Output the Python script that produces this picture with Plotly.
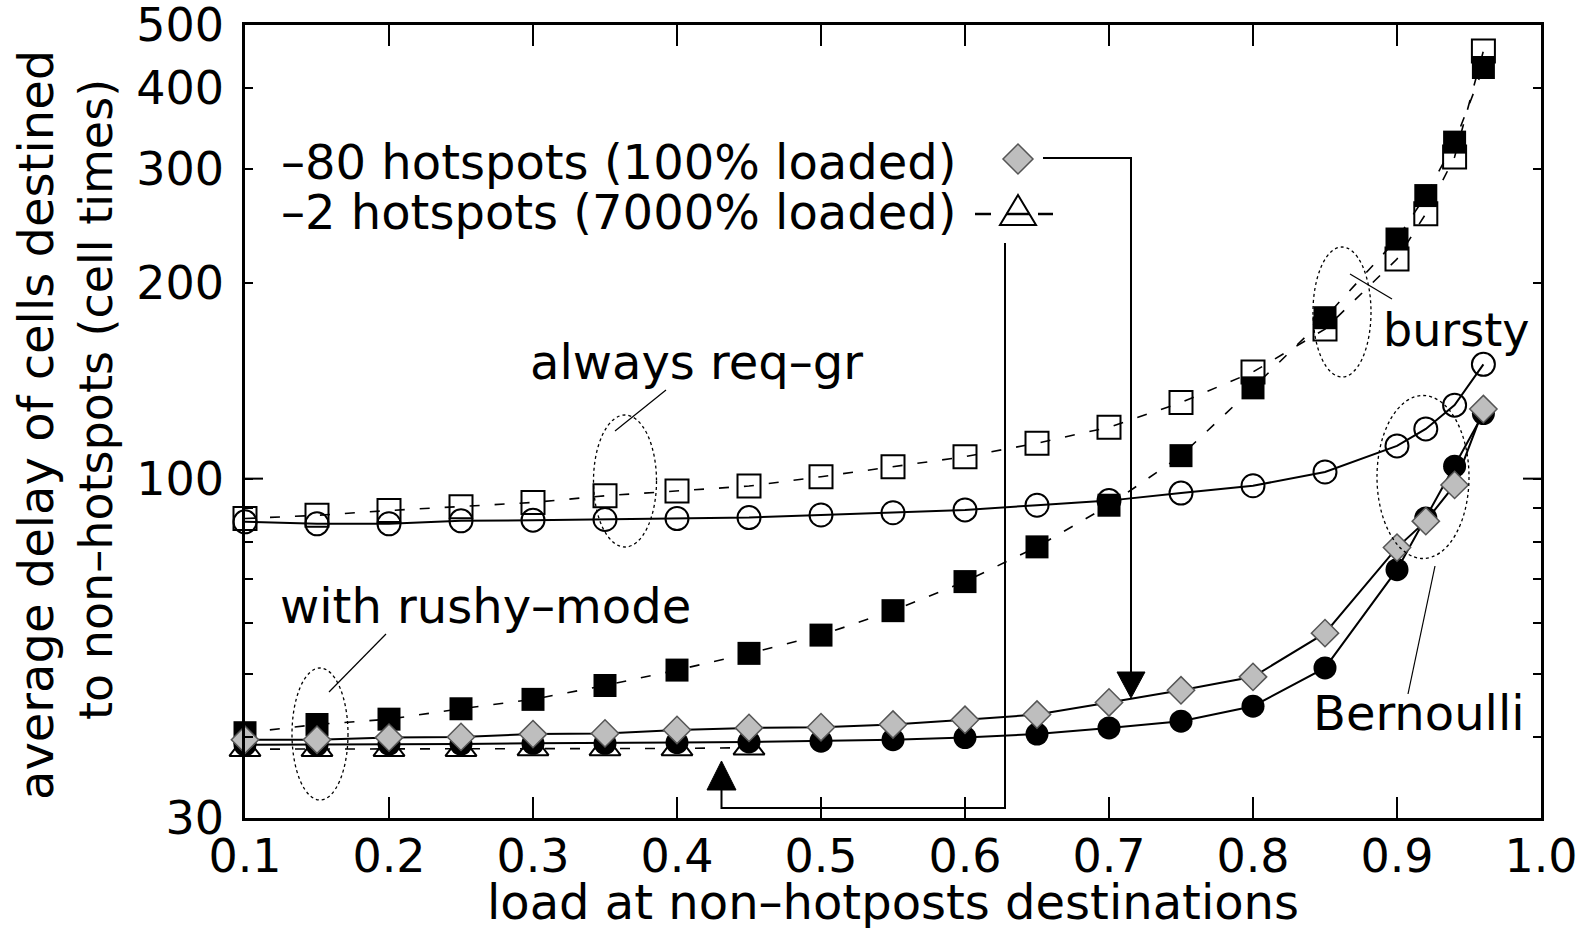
import math
import plotly.graph_objects as go

# ---------------- data ----------------
load = [0.1, 0.15, 0.2, 0.25, 0.3, 0.35, 0.4, 0.45, 0.5, 0.55,
        0.6, 0.65, 0.7, 0.75, 0.8, 0.85, 0.9, 0.92, 0.94, 0.96]

reqgr_bursty = [86.8, 87.8, 89.3, 90.5, 91.9, 94.1, 95.7, 97.4, 100.7, 104.3,
                108.1, 113.4, 120.0, 131.0, 146.0, 170.0, 218.0, 256.0, 313.0, 456.0]
rushy_bursty = [40.6, 41.8, 42.6, 44.2, 45.7, 48.0, 50.7, 53.8, 57.4, 62.6,
                69.4, 78.5, 91.0, 108.5, 138.0, 177.0, 234.0, 273.0, 330.0, 430.0]
reqgr_bern = [85.8, 85.2, 85.2, 86.1, 86.3, 86.5, 86.8, 87.1, 87.9, 88.6,
              89.5, 91.0, 92.5, 95.0, 97.5, 102.4, 112.3, 119.3, 129.8, 150.0]
rushy_bern = [38.9, 38.9, 39.0, 39.0, 39.1, 39.1, 39.2, 39.3, 39.4, 39.6,
              39.9, 40.4, 41.3, 42.3, 44.6, 51.1, 72.4, 87.0, 104.5, 126.0]
hot80 = [39.6, 39.6, 39.9, 40.0, 40.4, 40.5, 41.0, 41.3, 41.4, 41.8,
         42.5, 43.3, 45.2, 47.2, 49.5, 57.8, 78.3, 86.0, 97.8, 128.0]
load_hot2 = [0.1, 0.15, 0.2, 0.25, 0.3, 0.35, 0.4, 0.45]
hot2 = [38.3, 38.3, 38.3, 38.3, 38.4, 38.4, 38.4, 38.5]

x_ticks = [0.1, 0.2, 0.3, 0.4, 0.5, 0.6, 0.7, 0.8, 0.9, 1.0]
y_ticks = [30, 100, 200, 300, 400, 500]
y_minor = [40, 50, 60, 70, 80, 90]

# ---------------- layout helpers (pixel -> paper) ----------------
W, H = 1588, 928
L, R, T, B = 245, 1541, 25, 818
FONT = "DejaVu Sans"


def px(X):
    return (X - L) / (R - L)


def py(Y):
    return (B - Y) / (B - T)


fig = go.Figure()

DASH = "10px,15px"

fig.add_trace(go.Scatter(
    x=load, y=reqgr_bursty, mode="lines+markers", cliponaxis=False,
    line=dict(color="black", width=1.6, dash=DASH),
    marker=dict(symbol="square-open", size=23, color="black", line=dict(width=2, color="black"))))
fig.add_trace(go.Scatter(
    x=load, y=rushy_bursty, mode="lines+markers", cliponaxis=False,
    line=dict(color="black", width=1.6, dash=DASH),
    marker=dict(symbol="square", size=23, color="black", line=dict(width=0))))
fig.add_trace(go.Scatter(
    x=load, y=reqgr_bern, mode="lines+markers", cliponaxis=False,
    line=dict(color="black", width=2),
    marker=dict(symbol="circle-open", size=23, color="black", line=dict(width=2, color="black"))))
fig.add_trace(go.Scatter(
    x=load, y=rushy_bern, mode="lines+markers", cliponaxis=False,
    line=dict(color="black", width=2),
    marker=dict(symbol="circle", size=23, color="black", line=dict(width=0))))
fig.add_trace(go.Scatter(
    x=load_hot2, y=hot2, mode="lines+markers", cliponaxis=False,
    line=dict(color="black", width=1.6, dash=DASH),
    marker=dict(symbol="triangle-up-open", size=27, color="black", line=dict(width=2, color="black"))))
fig.add_trace(go.Scatter(
    x=load, y=hot80, mode="lines+markers", cliponaxis=False,
    line=dict(color="black", width=2),
    marker=dict(symbol="diamond", size=21, color="#bebebe", line=dict(width=1.5, color="#555555"))))

shapes = []


def line(x0, y0, x1, y1, width=1.2, dash="solid"):
    shapes.append(dict(type="line", xref="paper", yref="paper",
                       x0=px(x0), y0=py(y0), x1=px(x1), y1=py(y1),
                       line=dict(color="black", width=width, dash=dash)))


def ellipse(cx, cy, w, h):
    shapes.append(dict(type="circle", xref="paper", yref="paper",
                       x0=px(cx - w / 2), x1=px(cx + w / 2),
                       y0=py(cy + h / 2), y1=py(cy - h / 2),
                       line=dict(color="black", width=1.3, dash="dot")))


def poly(points, fill, outline="black", width=1.5):
    d = "M " + " L ".join(f"{px(a):.5f},{py(b):.5f}" for a, b in points) + " Z"
    shapes.append(dict(type="path", xref="paper", yref="paper", path=d,
                       fillcolor=fill, line=dict(color=outline, width=width)))


def polyline(points, width=2):
    d = "M " + " L ".join(f"{px(a):.5f},{py(b):.5f}" for a, b in points)
    shapes.append(dict(type="path", xref="paper", yref="paper", path=d,
                       line=dict(color="black", width=width)))


# long tick at 100 on both sides
y100 = B - (math.log10(100) - math.log10(30)) / (math.log10(500) - math.log10(30)) * (B - T)
line(L, y100, L + 18, y100, width=2)
line(R - 18, y100, R, y100, width=2)

# key samples
poly([(1018, 144), (1033, 159), (1018, 174), (1003, 159)], "#bebebe", "#555555", 1.5)
polyline([(1043, 158), (1131, 158), (1131, 672)], width=2)
poly([(1117, 672), (1145, 672), (1131, 698)], "black", "black", 1)

poly([(1018, 195), (1036, 225), (1000, 225)], "rgba(0,0,0,0)", "black", 2)
line(975, 214, 991, 214, width=2.5)
line(1006, 214, 1030, 214, width=2.5)
line(1038, 214, 1053, 214, width=2.5)
polyline([(1005, 243), (1005, 808), (721.5, 808), (721.5, 790)], width=2)
poly([(707, 790), (736, 790), (721.5, 761)], "black", "black", 1)

# callout ellipses and leaders
ellipse(625, 481, 63, 132)
line(615, 431, 666, 390, width=1.2)
ellipse(320, 734, 56, 132)
line(329, 692, 386, 634, width=1.2)
ellipse(1342, 312, 58, 130)
line(1350, 274, 1392, 299, width=1.2)
ellipse(1423, 477, 92, 163)
line(1408, 694, 1435, 566, width=1.2)

annotations = []


def text(s, X, Y, size=48, xanchor="center", angle=0):
    annotations.append(dict(text=s, xref="paper", yref="paper", x=px(X), y=py(Y),
                            xanchor=xanchor, yanchor="middle", showarrow=False,
                            textangle=angle, font=dict(family=FONT, size=size, color="black")))


text("–80 hotspots (100% loaded)", 279, 162, xanchor="left")
text("–2 hotspots (7000% loaded)", 279, 212, xanchor="left")
text("always req–gr", 696, 362)
text("with rushy–mode", 485, 606)
text("bursty", 1456, 330, size=46)
text("Bernoulli", 1419, 713)
text("load at non–hotposts destinations", 893, 902)
text("average delay of cells destined", 36, 425, angle=-90)
text("to non–hotspots (cell times)", 96, 400, size=46, angle=-90)

fig.update_layout(
    width=W, height=H,
    margin=dict(l=L, r=W - R, t=T, b=H - B, autoexpand=False),
    paper_bgcolor="white", plot_bgcolor="white",
    showlegend=False,
    shapes=shapes, annotations=annotations,
    font=dict(family=FONT, color="black"),
)
fig.update_xaxes(
    range=[0.1, 1.0], tickvals=x_ticks, tickformat=".1f", automargin=False,
    ticks="inside", ticklen=21, tickwidth=2, tickcolor="black",
    showline=True, linewidth=2.5, linecolor="black", mirror="ticks",
    showgrid=False, zeroline=False, ticklabelstandoff=-4, ticklabeloverflow="allow",
    tickfont=dict(family=FONT, size=46, color="black"),
)
fig.update_yaxes(
    type="log", range=[math.log10(30) - 1e-5, math.log10(500) + 1e-5], automargin=False,
    tickvals=y_ticks, ticktext=[str(v) for v in y_ticks],
    ticks="inside", ticklen=8, tickwidth=2, tickcolor="black",
    minor=dict(tickvals=y_minor, ticks="inside", ticklen=8, tickwidth=2, tickcolor="black", showgrid=False),
    showline=True, linewidth=2.5, linecolor="black", mirror="ticks",
    showgrid=False, zeroline=False, ticklabelstandoff=9, ticklabeloverflow="allow",
    tickfont=dict(family=FONT, size=46, color="black"),
)

fig.write_html("out.html")
